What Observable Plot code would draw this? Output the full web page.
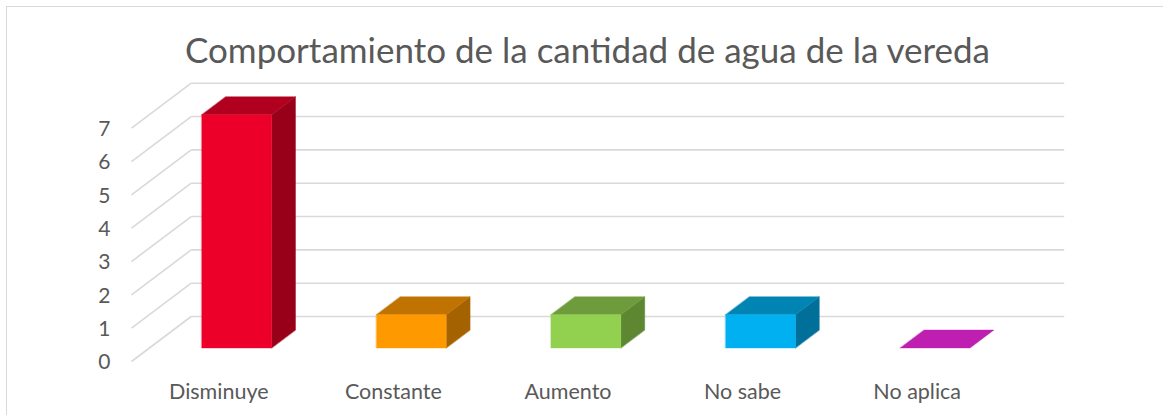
<!DOCTYPE html>
<html>
<head>
<meta charset="utf-8">
<script src="https://cdn.jsdelivr.net/npm/d3@7"></script>
<script src="https://cdn.jsdelivr.net/npm/@observablehq/plot@0.6"></script>
<style>
  html, body { margin: 0; padding: 0; background: #fff; }
  #wrap { position: relative; width: 1163px; height: 415px; overflow: hidden; font-family: Lato, "Open Sans", sans-serif; }
  #border { position: absolute; left: 6px; top: 6px; width: 1300px; height: 600px; border: 1px solid #d9d9d9; box-sizing: border-box; }
  #title { position: relative; height: 75px; box-sizing: border-box; padding-top: 28px; line-height: 1.2; font-size: 35px; color: #595959; text-align: center; padding-left: 12px; white-space: nowrap; }
  #chart { position: relative; }
  #chart svg { display: block; }
</style>
</head>
<body>
<div id="wrap">
  <div id="border"></div>
  <div id="title">Comportamiento de la cantidad de agua de la vereda</div>
  <div id="chart"></div>
</div>
<script>
// ---- data ----
const categories = ["Disminuye", "Constante", "Aumento", "No sabe", "No aplica"];
const values = [7, 1, 1, 1, 0];
const frontColors = ["#EC0029", "#FF9900", "#92D050", "#00B0F0", "#C21FB2"];
const topColors = ["#B1001F", "#C07300", "#6E9C3C", "#0084B4", "#BE1FB0"];
const sideColors = ["#98001A", "#A46300", "#5E8731", "#006F9A", "#8F1786"];
const yTicks = [0, 1, 2, 3, 4, 5, 6, 7];

// ---- oblique 3D projection (in data units) ----
const DX = 0.342;   // depth offset along x (category units)
const DY = 1.35;    // depth offset along y (value units)
const B0 = 0.3, B1 = 0.7;   // bar extent within band
const D0 = 0.3, D1 = 0.7;   // bar extent in depth
const P = (c, v, d) => ({x: c + d * DX, y: v + d * DY});

// gridlines
const backLines = yTicks.map(v => {
  const a = P(0, v, 1), b = P(categories.length, v, 1);
  return {x1: a.x, y1: a.y, x2: b.x, y2: b.y};
});
const sideLines = yTicks.map(v => {
  const a = P(0, v, 0), b = P(0, v, 1);
  return {x1: a.x, y1: a.y, x2: b.x, y2: b.y};
});

// faces
const faces = [];
categories.forEach((cat, i) => {
  const v = values[i];
  const l = i + B0, r = i + B1;
  const add = (id, color, pts) => pts.forEach(p => faces.push({id: cat + "-" + id, color, x: p.x, y: p.y}));
  if (v > 0) {
    add("side", sideColors[i], [P(r, 0, D0), P(r, v, D0), P(r, v, D1), P(r, 0, D1)]);
  }
  add("top", topColors[i], [P(l, v, D0), P(r, v, D0), P(r, v, D1), P(l, v, D1)]);
  if (v > 0) {
    add("front", frontColors[i], [P(l, 0, D0), P(r, 0, D0), P(r, v, D0), P(l, v, D0)]);
  }
});

const labels = categories.map((c, i) => ({c, x: i + 0.5}));

const plot = Plot.plot({
  width: 1163,
  height: 340,
  marginLeft: 0, marginRight: 0, marginTop: 0, marginBottom: 0,
  x: {domain: [0, 5], range: [131, 1004], axis: null},
  y: {domain: [0, 7], range: [286, 286 - 233.3], axis: null},
  color: {type: "identity"},
  style: {fontFamily: "Lato, 'Open Sans', sans-serif", background: "transparent"},
  marks: [
    Plot.link(backLines, {x1: "x1", y1: "y1", x2: "x2", y2: "y2", stroke: "#d9d9d9", strokeWidth: 1.6}),
    Plot.link(sideLines, {x1: "x1", y1: "y1", x2: "x2", y2: "y2", stroke: "#d9d9d9", strokeWidth: 1.6}),
    Plot.line(faces, {x: "x", y: "y", z: "id", fill: "color", stroke: "color", strokeWidth: 0.4, curve: "linear-closed"}),
    Plot.text(yTicks, {x: 0, y: d => d, text: d => String(d), textAnchor: "end", dx: -21, dy: 1, fontSize: 21, fill: "#595959"}),
    Plot.text(labels, {x: "x", y: 0, text: "c", dy: 31, fontSize: 21.5, fill: "#595959"})
  ]
});
document.getElementById("chart").appendChild(plot);
</script>
</body>
</html>
